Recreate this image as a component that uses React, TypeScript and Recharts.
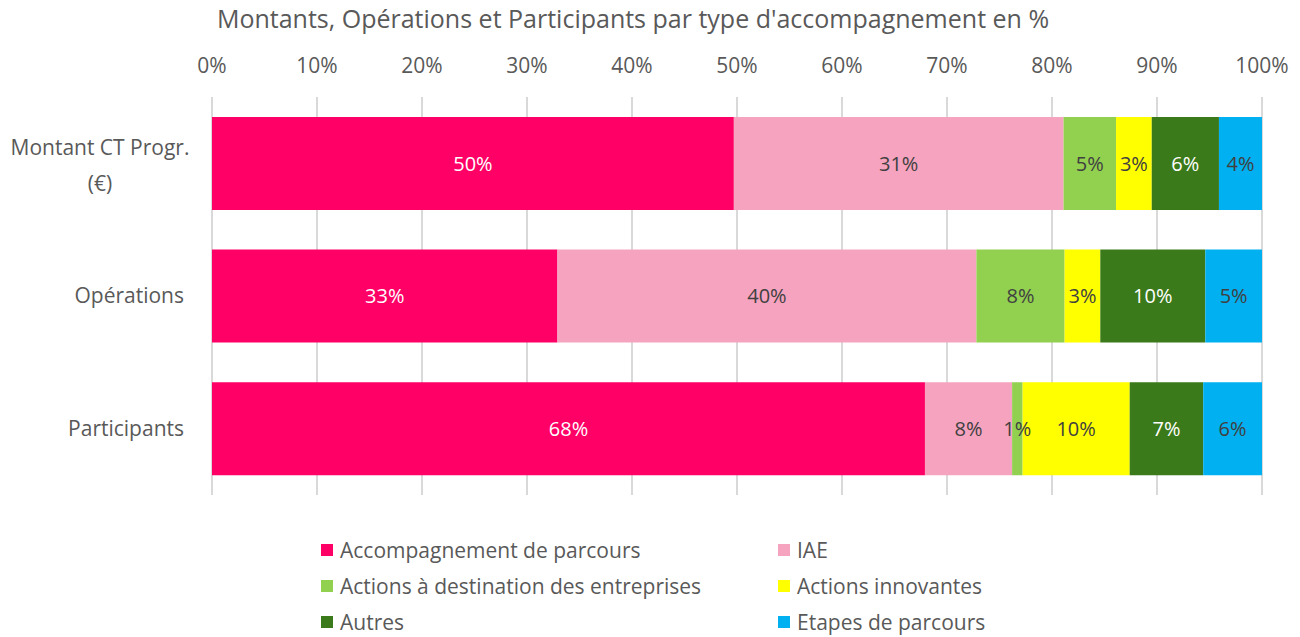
import { Bar, BarChart, CartesianGrid, LabelList, XAxis, YAxis } from 'recharts';

const categories = ['Montant CT Progr.\n(€)', 'Opérations', 'Participants'];
const accompagnement = [49.7, 32.9, 67.9];
const iae = [31.4, 39.9, 8.3];
const entreprises = [5.0, 8.4, 1.0];
const innovantes = [3.4, 3.4, 10.2];
const autres = [6.4, 10.0, 7.0];
const etapes = [4.1, 5.4, 5.6];
const ticks = [0, 10, 20, 30, 40, 50, 60, 70, 80, 90, 100];

const SERIES = [
    { key: 'acc', name: 'Accompagnement de parcours', values: accompagnement, color: '#FF0066', label: '#FFFFFF' },
    { key: 'iae', name: 'IAE', values: iae, color: '#F6A3BF', label: '#404040' },
    { key: 'ent', name: 'Actions à destination des entreprises', values: entreprises, color: '#92D050', label: '#404040' },
    { key: 'inn', name: 'Actions innovantes', values: innovantes, color: '#FFFF00', label: '#404040' },
    { key: 'aut', name: 'Autres', values: autres, color: '#3B7A1A', label: '#FFFFFF' },
    { key: 'eta', name: 'Etapes de parcours', values: etapes, color: '#00B0F0', label: '#404040' },
];

const data = categories.map((cat, i) => {
    const row: Record<string, string | number> = { cat };
    SERIES.forEach((s) => (row[s.key] = s.values[i]));
    return row;
});

const FONT = '"Open Sans", sans-serif';
const GREY = '#595959';

function CategoryTick({ x, y, payload }: any) {
    const lines = String(payload.value).split('\n');
    if (lines.length === 1) {
        return (
            <text x={x} y={y} dy={7} textAnchor="end" fill={GREY} fontSize={21} fontFamily={FONT}>
                {lines[0]}
            </text>
        );
    }
    // wrapped label, lines centred on each other like the original
    return (
        <text x={x - 84} y={y} textAnchor="middle" fill={GREY} fontSize={21} fontFamily={FONT}>
            {lines.map((l, i) => (
                <tspan key={i} x={x - 84} dy={i === 0 ? -8 : 36}>
                    {l}
                </tspan>
            ))}
        </text>
    );
}

function LegendGrid() {
    return (
        <div
            style={{
                position: 'absolute',
                left: 321,
                top: 536,
                display: 'grid',
                gridTemplateColumns: '457px 300px',
                rowGap: 8,
                fontFamily: FONT,
                fontSize: 21,
                color: GREY,
                lineHeight: '28px',
                whiteSpace: 'nowrap',
            }}
        >
            {SERIES.map((s) => (
                <div key={s.key} style={{ display: 'flex', alignItems: 'center' }}>
                    <span style={{ width: 12, height: 12, background: s.color, marginRight: 7 }} />
                    {s.name}
                </div>
            ))}
        </div>
    );
}

export default function App() {
    return (
        <div style={{ position: 'absolute', left: 0, top: 0, width: 1300, height: 637, background: '#fff' }}>
            <div
                style={{
                    position: 'absolute',
                    left: 0,
                    top: 1,
                    width: 1266,
                    textAlign: 'center',
                    fontFamily: FONT,
                    fontSize: 25,
                    color: GREY,
                    whiteSpace: 'nowrap',
                }}
            >
                Montants, Opérations et Participants par type d'accompagnement en %
            </div>
            <BarChart
                width={1300}
                height={637}
                data={data}
                layout="vertical"
                margin={{ top: 40, right: 38, bottom: 142, left: 0 }}
                barCategoryGap="15%"
            >
                <CartesianGrid horizontal={false} stroke="#D9D9D9" strokeWidth={2} />
                <XAxis
                    type="number"
                    orientation="top"
                    domain={[0, 100]}
                    ticks={ticks}
                    tickFormatter={(v) => `${v}%`}
                    axisLine={false}
                    tickLine={false}
                    height={57}
                    tickMargin={18}
                    tick={{ fill: GREY, fontSize: 21, fontFamily: FONT }}
                />
                <YAxis
                    type="category"
                    dataKey="cat"
                    width={212}
                    axisLine={false}
                    tickLine={false}
                    tickMargin={22}
                    tick={<CategoryTick />}
                />
                {SERIES.map((s) => (
                    <Bar key={s.key} dataKey={s.key} name={s.name} stackId="a" fill={s.color} isAnimationActive={false}>
                        <LabelList
                            dataKey={s.key}
                            position="center"
                            formatter={(v: any) => `${Math.round(Number(v))}%`}
                            fill={s.label}
                            fontSize={20}
                            fontFamily={FONT}
                        />
                    </Bar>
                ))}
            </BarChart>
            <LegendGrid />
        </div>
    );
}
